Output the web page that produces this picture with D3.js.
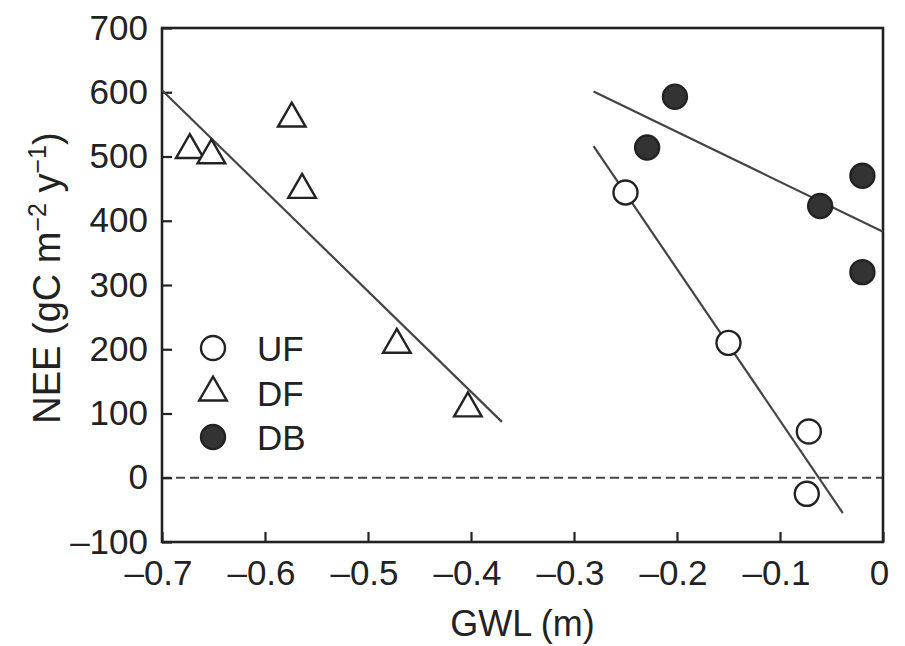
<!DOCTYPE html>
<html>
    <head>
        <script src="https://d3js.org/d3.v7.min.js"></script>
        <style>
            body { margin:0; background:#fff; }
            svg { display:block; }
            text { font-family:'Liberation Sans', Arial, sans-serif; fill:#222; }
        </style>
    </head>
    <body>
        <svg width='905' height='646'></svg>
    </body>
    <script>

        // series: GWL (m) and NEE (gC m-2 y-1)
        let ufGwl = [-0.250, -0.150, -0.072, -0.074];
        let ufNee = [444, 210, 72, -25];
        let dfGwl = [-0.673, -0.652, -0.574, -0.564, -0.472, -0.403];
        let dfNee = [510, 502, 559, 448, 207, 108];
        let dbGwl = [-0.229, -0.202, -0.061, -0.020, -0.020];
        let dbNee = [514, 593, 423, 470, 320];

        // regression lines, end points [gwl, nee]
        let ufFit = [[-0.281, 516], [-0.039, -55]];
        let dfFit = [[-0.700, 603], [-0.370, 87]];
        let dbFit = [[-0.281, 601], [0.000, 383]];

        let seriesNames = ['UF', 'DF', 'DB'];
        let xTicks = [-0.7, -0.6, -0.5, -0.4, -0.3, -0.2, -0.1, 0];
        let yTicks = [-100, 0, 100, 200, 300, 400, 500, 600, 700];

        let svg = d3.select('svg');
        let ink = '#222';

        let xScale = d3.scaleLinear()
                        .domain([-0.7, 0])
                        .range([162, 883]);
        let yScale = d3.scaleLinear()
                        .domain([-100, 700])
                        .range([542, 28]);

        let fmt = d => d === 0 ? '0' : (d < 0 ? '\u2013' : '') + d3.format('')(Math.abs(d));

        // zero line
        svg.append('line')
            .attr('x1', xScale(-0.7))
            .attr('x2', xScale(0))
            .attr('y1', yScale(0))
            .attr('y2', yScale(0))
            .style('stroke', '#444')
            .style('stroke-width', 1.8)
            .style('stroke-dasharray', '9,5');

        // axes, ticks pointing inward
        let yAxis = svg.append('g')
                        .attr('transform', `translate(${xScale(-0.7)},0)`)
                        .call(d3.axisLeft(yScale).tickValues(yTicks).tickSizeInner(-10).tickSizeOuter(0).tickPadding(14).tickFormat(fmt));
        let xAxis = svg.append('g')
                        .attr('transform', `translate(0,${yScale(-100)})`)
                        .call(d3.axisBottom(xScale).tickValues(xTicks).tickSizeInner(-10).tickSizeOuter(0).tickPadding(18).tickFormat(fmt));
        [xAxis, yAxis].forEach(a => {
            a.select('.domain').remove();
            a.selectAll('line').style('stroke', ink).style('stroke-width', 2.2);
            a.selectAll('text').style('font-size', '35px').style('fill', ink);
        });
        xAxis.selectAll('text').attr('dx', -4);

        // frame
        svg.append('rect')
            .attr('x', xScale(-0.7))
            .attr('y', yScale(700))
            .attr('width', xScale(0) - xScale(-0.7))
            .attr('height', yScale(-100) - yScale(700))
            .style('fill', 'none')
            .style('stroke', ink)
            .style('stroke-width', 2.6);

        // axis titles
        svg.append('text')
            .attr('x', (xScale(-0.7) + xScale(0)) / 2)
            .attr('y', 636)
            .attr('text-anchor', 'middle')
            .style('font-size', '36px')
            .text('GWL (m)');

        let yTitle = svg.append('text')
                        .attr('transform', 'translate(60,278) rotate(-90)')
                        .attr('text-anchor', 'middle')
                        .style('font-size', '38px');
        yTitle.append('tspan').text('NEE (gC m');
        yTitle.append('tspan').attr('dy', -14).style('font-size', '25px').text('\u22122');
        yTitle.append('tspan').attr('dy', 14).text(' y');
        yTitle.append('tspan').attr('dy', -14).style('font-size', '25px').text('\u22121');
        yTitle.append('tspan').attr('dy', 14).text(')');

        // fit lines
        let line = d3.line()
                    .x(d => xScale(d[0]))
                    .y(d => yScale(d[1]));
        svg.selectAll('.fit')
            .data([dfFit, ufFit, dbFit])
            .join('path')
            .classed('fit', true)
            .attr('d', line)
            .style('fill', 'none')
            .style('stroke', '#444')
            .style('stroke-width', 2.2);

        // markers
        let triangle = d3.symbol().type(d3.symbolTriangle).size(330);

        let drawMarker = (sel, name) => {
            if (name === 'DF') {
                sel.append('path')
                    .attr('d', triangle)
                    .style('fill', '#fff')
                    .style('stroke', ink)
                    .style('stroke-width', 2.4);
            } else {
                sel.append('circle')
                    .attr('r', 12)
                    .style('fill', name === 'DB' ? '#333' : '#fff')
                    .style('stroke', ink)
                    .style('stroke-width', 2.4);
            }
        };

        let series = [
            { name: 'DF', gwl: dfGwl, nee: dfNee },
            { name: 'UF', gwl: ufGwl, nee: ufNee },
            { name: 'DB', gwl: dbGwl, nee: dbNee },
        ];
        series.forEach(s => {
            s.gwl.forEach((g, i) => {
                let m = svg.append('g')
                            .attr('transform', `translate(${xScale(g)},${yScale(s.nee[i])})`);
                drawMarker(m, s.name);
            });
        });

        // legend
        seriesNames.forEach((name, i) => {
            let row = svg.append('g')
                        .attr('transform', `translate(213,${348 + i * 44.5})`);
            drawMarker(row, name);
            row.append('text')
                .attr('x', 44)
                .attr('y', 13)
                .style('font-size', '35px')
                .text(name);
        });

    </script>
</html>
